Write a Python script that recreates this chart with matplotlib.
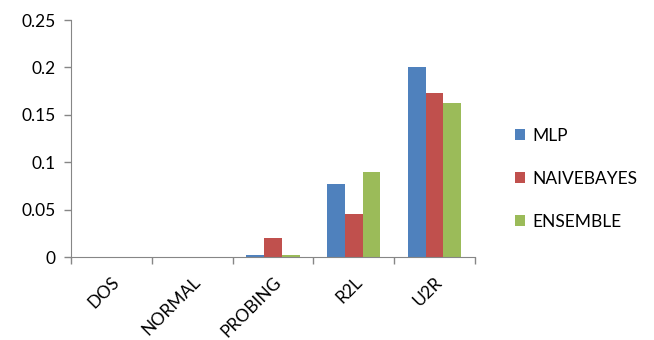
import numpy as np
import matplotlib.pyplot as plt

categories = ["DOS", "NORMAL", "PROBING", "R2L", "U2R"]
mlp = [0, 0, 0.002, 0.077, 0.200]
naivebayes = [0, 0, 0.020, 0.045, 0.173]
ensemble = [0, 0, 0.002, 0.090, 0.163]

plt.rcParams['font.family'] = ['Lato', 'DejaVu Sans']

fig = plt.figure(figsize=(6.54, 3.40), dpi=100)
ax = fig.add_axes([0.1086, 0.244, 0.6177, 0.697])

x = np.arange(len(categories))
w = 0.22
ax.bar(x - w, mlp, w, color="#4F81BD", label="MLP")
ax.bar(x, naivebayes, w, color="#C0504D", label="NAIVEBAYES")
ax.bar(x + w, ensemble, w, color="#9BBB59", label="ENSEMBLE")

ax.set_xlim(-0.5, len(categories) - 0.5)
ax.set_ylim(0, 0.25)
ax.set_yticks([0, 0.05, 0.1, 0.15, 0.2, 0.25])
ax.set_yticklabels(["0", "0.05", "0.1", "0.15", "0.2", "0.25"], fontsize=12.5)
ax.set_xticks(x)
ax.set_xticklabels(categories, rotation=45, ha="right", rotation_mode="anchor", fontsize=12.5)
ax.set_xticks(np.arange(len(categories) + 1) - 0.5, minor=True)
ax.tick_params(axis="x", which="major", length=0, pad=12)
ax.tick_params(axis="x", which="minor", length=5, color="#868686", width=1)
ax.tick_params(axis="y", length=5, color="#868686", width=1, pad=6)

for s in ["top", "right"]:
    ax.spines[s].set_visible(False)
for s in ["left", "bottom"]:
    ax.spines[s].set_color("#868686")

ax.legend(loc="center left", bbox_to_anchor=(1.06, 0.33), frameon=False,
          fontsize=12.5, handlelength=0.6, handleheight=0.6, labelspacing=1.55,
          handletextpad=0.4)

fig.savefig("out.png", dpi=100)
